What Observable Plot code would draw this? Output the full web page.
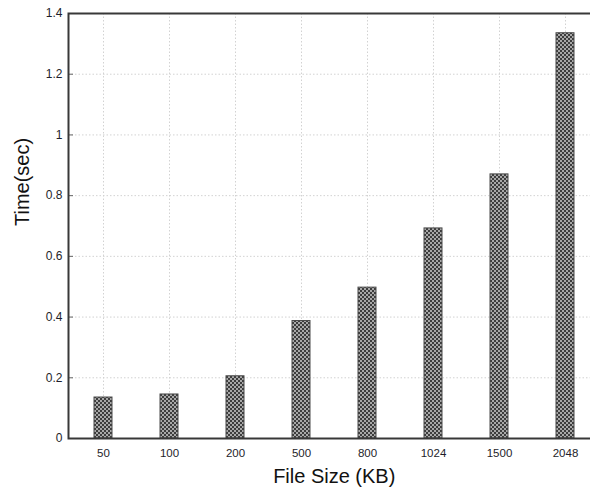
<!DOCTYPE html>
<html>
<head>
<meta charset="utf-8">
<script src="https://cdn.jsdelivr.net/npm/d3@7"></script>
<script src="https://cdn.jsdelivr.net/npm/@observablehq/plot@0.6"></script>
<style>
  html, body { margin: 0; padding: 0; background: #fff; overflow: hidden; }
  #chart svg { overflow: hidden; display: block; }
</style>
</head>
<body>
<!-- checkerboard fill used by the bars -->
<svg width="0" height="0" style="position:absolute">
  <defs>
    <pattern id="checker" patternUnits="userSpaceOnUse" width="4" height="4">
      <rect width="4" height="4" fill="#3d3d3d"></rect>
      <rect x="0" y="0" width="2" height="2" fill="#a8a8a8"></rect>
      <rect x="2" y="2" width="2" height="2" fill="#a8a8a8"></rect>
    </pattern>
  </defs>
</svg>
<div id="chart"></div>
<script>
// File sizes (KB) and measured transfer times (sec)
const fileSizes = ["50", "100", "200", "500", "800", "1024", "1500", "2048"];
const times = [0.135, 0.145, 0.205, 0.387, 0.497, 0.692, 0.87, 1.335];
const yTicks = [0, 0.2, 0.4, 0.6, 0.8, 1, 1.2, 1.4];
const xLabel = "File Size (KB)";
const yLabel = "Time(sec)";

const data = fileSizes.map((s, i) => ({size: s, time: times[i]}));

const chart = Plot.plot({
  width: 590,
  height: 489,
  marginLeft: 68,
  marginRight: -9.5,
  marginTop: 13,
  marginBottom: 51,
  style: {fontFamily: "'Liberation Sans', Arial, sans-serif", color: "#222", background: "#fff"},
  x: {domain: fileSizes, type: "band", paddingInner: 0.73, paddingOuter: 0.365, align: 0.5},
  y: {domain: [0, 1.4], ticks: yTicks},
  marks: [
    Plot.gridY(yTicks, {stroke: "#d2d2d2", strokeOpacity: 1, strokeDasharray: "1.5,2"}),
    Plot.gridX(fileSizes, {stroke: "#d2d2d2", strokeOpacity: 1, strokeDasharray: "1.5,2"}),
    Plot.barY(data, {x: "size", y: "time", fill: "url(#checker)", stroke: "#4a4a4a", strokeWidth: 1}),
    Plot.axisY(yTicks, {
      tickSize: -5, tickPadding: 11, stroke: "#666", fontSize: 12, fill: "#1e1e2a",
      tickFormat: d => String(d), label: null
    }),
    Plot.axisX(fileSizes, {tickSize: 0, tickPadding: 10, fontSize: 11.5, fill: "#1e1e2a", label: null}),
    Plot.frame({stroke: "#383838", strokeWidth: 2}),
    Plot.text([xLabel], {frameAnchor: "bottom", dy: 44, fontSize: 20, fill: "#111"}),
    Plot.text([yLabel], {frameAnchor: "left", dx: -46, rotate: -90, fontSize: 20, fill: "#111"})
  ]
});

document.getElementById("chart").append(chart);
</script>
</body>
</html>
